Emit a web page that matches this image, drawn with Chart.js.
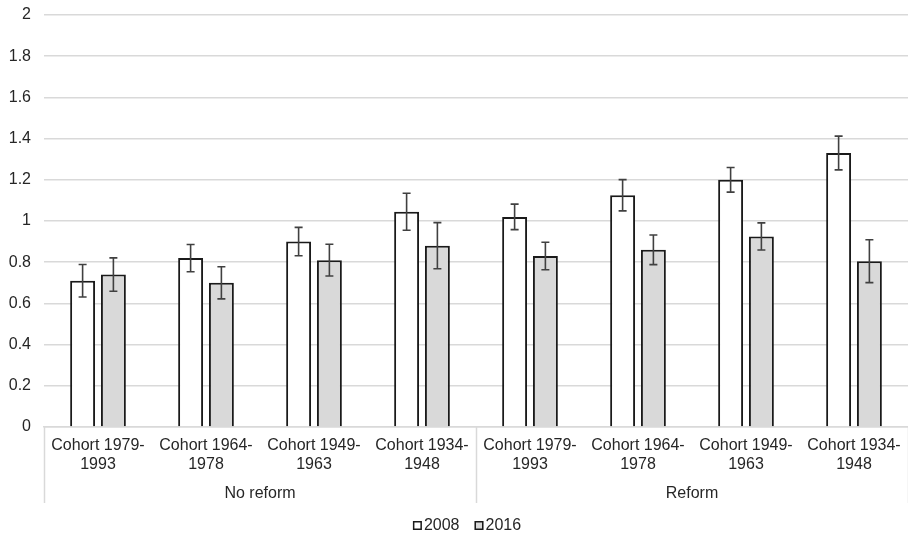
<!DOCTYPE html>
<html>
<head>
<meta charset="utf-8">
<script src="https://cdn.jsdelivr.net/npm/chart.js@4.4.1/dist/chart.umd.min.js"></script>
<style>
  html, body { margin: 0; padding: 0; background: #ffffff; }
  #chart { display: block; }
</style>
</head>
<body>
<canvas id="chart" width="908" height="539"></canvas>
<script>
// Cohorts shown in each reform group
const cohorts = ['Cohort 1979-1993', 'Cohort 1964-1978', 'Cohort 1949-1963', 'Cohort 1934-1948'];
const groups = ['No reform', 'Reform'];
const seriesNames = ['2008', '2016'];

// Mean values per cohort (No reform first, then Reform)
const values2008 = [0.71, 0.82, 0.90, 1.045, 1.02, 1.125, 1.20, 1.33];
const values2016 = [0.74, 0.70, 0.81, 0.88, 0.83, 0.86, 0.925, 0.805];

// Half-width of the confidence interval for each bar
const err2008 = [0.079, 0.066, 0.069, 0.09, 0.062, 0.076, 0.06, 0.082];
const err2016 = [0.081, 0.078, 0.077, 0.112, 0.067, 0.072, 0.066, 0.104];

// Y axis tick values
const yTicks = [0, 0.2, 0.4, 0.6, 0.8, 1, 1.2, 1.4, 1.6, 1.8, 2];

const FONT = "'Liberation Sans', Arial, sans-serif";
const TEXT = '#262626';
const GRID = '#d9d9d9';

// Two-line tick labels: "Cohort 1979-" / "1993"
const tickLabels = [];
groups.forEach(() => cohorts.forEach(c => {
  const i = c.indexOf('-');
  tickLabels.push([c.slice(0, i + 1), c.slice(i + 1)]);
}));

const errors = [err2008, err2016];

// Vertical error bars with caps
const errorBarPlugin = {
  id: 'errorBars',
  afterDatasetsDraw(chart) {
    const ctx = chart.ctx;
    const y = chart.scales.y;
    ctx.save();
    ctx.strokeStyle = '#404040';
    ctx.lineWidth = 1.6;
    chart.data.datasets.forEach((ds, di) => {
      const meta = chart.getDatasetMeta(di);
      meta.data.forEach((bar, i) => {
        const v = ds.data[i], e = errors[di][i];
        const yt = y.getPixelForValue(v + e);
        const yb = y.getPixelForValue(v - e);
        const x = bar.x;
        ctx.beginPath();
        ctx.moveTo(x, yt); ctx.lineTo(x, yb);
        ctx.moveTo(x - 4, yt); ctx.lineTo(x + 4, yt);
        ctx.moveTo(x - 4, yb); ctx.lineTo(x + 4, yb);
        ctx.stroke();
      });
    });
    ctx.restore();
  }
};

// Group labels under the cohort labels, with separators between groups
const groupAxisPlugin = {
  id: 'groupAxis',
  afterDraw(chart) {
    const ctx = chart.ctx;
    const xs = chart.scales.x;
    const area = chart.chartArea;
    const n = cohorts.length;
    const step = xs.getPixelForValue(1) - xs.getPixelForValue(0);
    const lineBottom = area.bottom + 76;
    ctx.save();
    ctx.strokeStyle = GRID;
    ctx.lineWidth = 1.5;
    for (let g = 0; g <= groups.length; g++) {
      let px = g * n < tickLabels.length
        ? xs.getPixelForValue(g * n) - step / 2
        : xs.getPixelForValue(tickLabels.length - 1) + step / 2;
      px = Math.round(px) + 0.5;
      ctx.beginPath();
      ctx.moveTo(px, area.bottom);
      ctx.lineTo(px, lineBottom);
      ctx.stroke();
    }
    ctx.fillStyle = TEXT;
    ctx.font = '16px ' + FONT;
    ctx.textAlign = 'center';
    ctx.textBaseline = 'middle';
    groups.forEach((g, gi) => {
      const x0 = xs.getPixelForValue(gi * n);
      const x1 = xs.getPixelForValue(gi * n + n - 1);
      ctx.fillText(g, (x0 + x1) / 2, area.bottom + 67);
    });
    ctx.restore();
  }
};

// Legend: small squares followed by the series name
const legendPlugin = {
  id: 'squareLegend',
  afterDraw(chart) {
    const ctx = chart.ctx;
    ctx.save();
    ctx.font = '16px ' + FONT;
    ctx.textBaseline = 'middle';
    ctx.textAlign = 'left';
    const box = 9, gap = 2, between = 15;
    const widths = seriesNames.map(s => box + gap + ctx.measureText(s).width);
    const total = widths.reduce((a, b) => a + b, 0) + between * (widths.length - 1);
    let x = 467 - total / 2;
    const yc = 526;
    chart.data.datasets.forEach((ds, i) => {
      ctx.fillStyle = ds.backgroundColor;
      ctx.fillRect(x, yc - box / 2 - 0.5, box, box);
      ctx.strokeStyle = '#1a1a1a';
      ctx.lineWidth = 1.5;
      ctx.strokeRect(x + 0.75, yc - box / 2 + 0.25, box - 1.5, box - 1.5);
      ctx.fillStyle = TEXT;
      ctx.fillText(seriesNames[i], x + box + gap, yc);
      x += widths[i] + between;
    });
    ctx.restore();
  }
};

new Chart(document.getElementById('chart'), {
  type: 'bar',
  data: {
    labels: tickLabels,
    datasets: [
      {
        label: seriesNames[0],
        data: values2008,
        backgroundColor: '#ffffff',
        borderColor: '#1a1a1a',
        borderWidth: 2,
        categoryPercentage: 0.57,
        barPercentage: 0.81
      },
      {
        label: seriesNames[1],
        data: values2016,
        backgroundColor: '#d9d9d9',
        borderColor: '#1a1a1a',
        borderWidth: 2,
        categoryPercentage: 0.57,
        barPercentage: 0.81
      }
    ]
  },
  options: {
    responsive: false,
    animation: false,
    devicePixelRatio: 1,
    layout: { padding: { top: 15, right: 0, bottom: 32, left: 0 } },
    plugins: {
      legend: { display: false },
      tooltip: { enabled: false }
    },
    scales: {
      x: {
        grid: { display: false, drawTicks: false },
        border: { display: true, color: GRID, width: 1.5 },
        ticks: {
          color: TEXT,
          font: { family: FONT, size: 16, lineHeight: 1.2 },
          padding: 9,
          maxRotation: 0,
          autoSkip: false
        },
        afterFit(scale) {
          scale.height = 80;
          scale.paddingLeft = 0;
          scale.paddingRight = 0;
        }
      },
      y: {
        min: 0,
        max: 2,
        afterBuildTicks(scale) { scale.ticks = yTicks.map(v => ({ value: v })); },
        grid: { color: GRID, lineWidth: 1.5, drawTicks: false },
        border: { display: false },
        ticks: {
          color: TEXT,
          font: { family: FONT, size: 16 },
          padding: 13,
          callback: v => String(Math.round(v * 10) / 10)
        },
        afterFit(scale) {
          scale.width = 44;
          scale.paddingTop = 0;
          scale.paddingBottom = 0;
        }
      }
    }
  },
  plugins: [errorBarPlugin, groupAxisPlugin, legendPlugin]
});
</script>
</body>
</html>
